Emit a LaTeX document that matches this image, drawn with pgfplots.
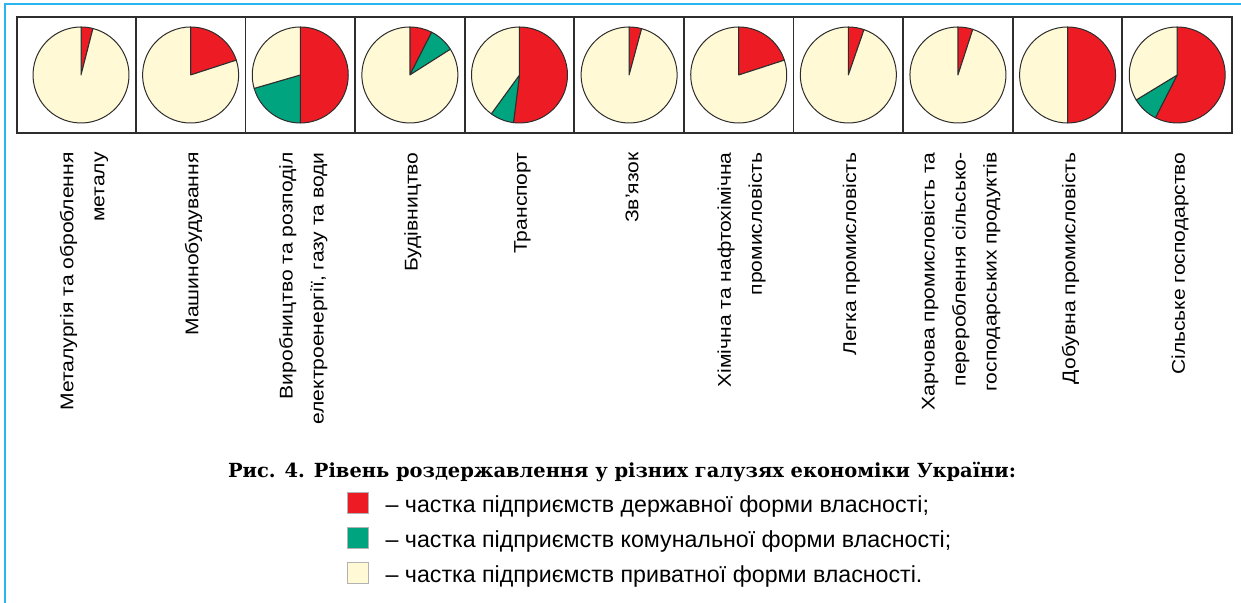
\documentclass[border=0pt]{standalone}
\usepackage{fontspec}
\setmainfont{Liberation Sans}
\newfontfamily\labelfont{Liberation Sans}[FakeStretch=1.145]
\newfontfamily\legendfont{Liberation Sans}
\newfontfamily\titlefont{DejaVu Serif}
\usepackage{pgfplots}
\usepackage{pgfplotstable}
\pgfplotsset{compat=1.18}
\definecolor{statered}{RGB}{237,28,36}
\definecolor{communalgreen}{RGB}{0,165,128}
\definecolor{privatecream}{RGB}{255,249,214}
\definecolor{framecol}{RGB}{41,182,240}
\definecolor{edgecol}{RGB}{45,45,45}
\pgfdeclareplotmark{empty}{}

% shares of enterprises, % : s = state, c = communal, p = private
\pgfplotstableread{
x   y    s     c     p
0   0.5  4     0     96
1   0.5  20    0     80
2   0.5  50    20.5  29.5
3   0.5  7.5   8.5   84
4   0.5  52    8     40
5   0.5  4.2   0     95.8
6   0.5  20    0     80
7   0.5  5.3   0     94.7
8   0.5  5     0     95
9   0.5  50    0     50
10  0.5  57.5  8.8   33.7
}\shares

\newcommand\pieR{24pt}

\begin{document}
\begin{tikzpicture}
\useasboundingbox (0,0) rectangle (620.5pt,301.5pt);
\draw[framecol, line width=1pt] (2.5pt,0) -- (2.5pt,299.5pt) -- (620.5pt,299.5pt);
\begin{axis}[
  at={(8.5pt,235pt)}, anchor=south west,
  width=607.5pt, height=58pt, scale only axis,
  xmin=-0.584, xmax=10.5, ymin=0, ymax=1,
  axis line style={edgecol, line width=0.9pt},
  ytick=\empty,
  xtick={0,1,2,3,4,5,6,7,8,9,10},
  xticklabels={
    {Металургія та оброблення\\металу},
    {Машинобудування},
    {Виробництво та розподіл\\електроенергії, газу та води},
    {Будівництво},
    {Транспорт},
    {Зв’язок},
    {Хімічна та нафтохімічна\\промисловість},
    {Легка промисловість},
    {Харчова промисловість та\\перероблення сільсько-\\господарських продуктів},
    {Добувна промисловість},
    {Сільське господарство}},
  major tick length=0pt, minor tick length=0pt,
  minor xtick={0.5,1.5,2.5,3.5,4.5,5.5,6.5,7.5,8.5,9.5},
  xminorgrids, minor grid style={edgecol, line width=0.9pt},
  x tick label style={rotate=90, anchor=east, align=right, inner sep=0pt,
    xshift=-9.5pt, yshift=-1.5pt, font=\labelfont\fontsize{9.2}{15.5}\selectfont},
  clip=false,
  legend style={at={(0.2716,-3.095)}, anchor=north west, draw=none, fill=none,
    inner sep=0pt, row sep=6pt,
    font=\legendfont\fontsize{11.6}{13}\selectfont,
    nodes={inner sep=0pt},
    cells={anchor=west},
    /tikz/every odd column/.append style={column sep=8.2pt}},
]
% state
\addplot[scatter, only marks, mark=empty,
  visualization depends on={\thisrow{s} \as \vs},
  scatter/@pre marker code/.code={%
    \pgfmathsetmacro\aA{90}%
    \pgfmathsetmacro\aB{90-3.6*\vs}%
    \filldraw[fill=statered, draw=edgecol, line width=0.5pt, line join=round]
      (0pt,0pt) -- (\aA:\pieR) arc[start angle=\aA, end angle=\aB, radius=\pieR] -- cycle;
  },
  scatter/@post marker code/.code={},
  legend image code/.code={\filldraw[fill=statered, draw=gray!60, line width=0.4pt] (0pt,-4.2pt) rectangle (10.5pt,6.3pt);}
] table[x=x, y=y] {\shares};
\addlegendentry{– частка підприємств державної форми власності;}
% communal
\addplot[scatter, only marks, mark=empty,
  visualization depends on={\thisrow{s} \as \vs},
  visualization depends on={\thisrow{c} \as \vc},
  scatter/@pre marker code/.code={%
    \ifdim\vc pt>0pt
    \pgfmathsetmacro\aA{90-3.6*\vs}%
    \pgfmathsetmacro\aB{90-3.6*(\vs+\vc)}%
    \filldraw[fill=communalgreen, draw=edgecol, line width=0.5pt, line join=round]
      (0pt,0pt) -- (\aA:\pieR) arc[start angle=\aA, end angle=\aB, radius=\pieR] -- cycle;
    \fi
  },
  scatter/@post marker code/.code={},
  legend image code/.code={\filldraw[fill=communalgreen, draw=gray!60, line width=0.4pt] (0pt,-4.2pt) rectangle (10.5pt,6.3pt);}
] table[x=x, y=y] {\shares};
\addlegendentry{– частка підприємств комунальної форми власності;}
% private
\addplot[scatter, only marks, mark=empty,
  visualization depends on={\thisrow{s} \as \vs},
  visualization depends on={\thisrow{c} \as \vc},
  scatter/@pre marker code/.code={%
    \pgfmathsetmacro\aA{90-3.6*(\vs+\vc)}%
    \filldraw[fill=privatecream, draw=edgecol, line width=0.5pt, line join=round]
      (0pt,0pt) -- (\aA:\pieR) arc[start angle=\aA, end angle=-270, radius=\pieR] -- cycle;
  },
  scatter/@post marker code/.code={},
  legend image code/.code={\filldraw[fill=privatecream, draw=gray!60, line width=0.4pt] (0pt,-4.2pt) rectangle (10.5pt,6.3pt);}
] table[x=x, y=y] {\shares};
\addlegendentry{– частка підприємств приватної форми власності.}
\end{axis}
\node[font=\titlefont\bfseries\fontsize{9.72}{12}\selectfont, anchor=base, inner sep=0pt]
  at (311pt,62.5pt) {Рис. 4. Рівень роздержавлення у різних галузях економіки України:};
\end{tikzpicture}
\end{document}
